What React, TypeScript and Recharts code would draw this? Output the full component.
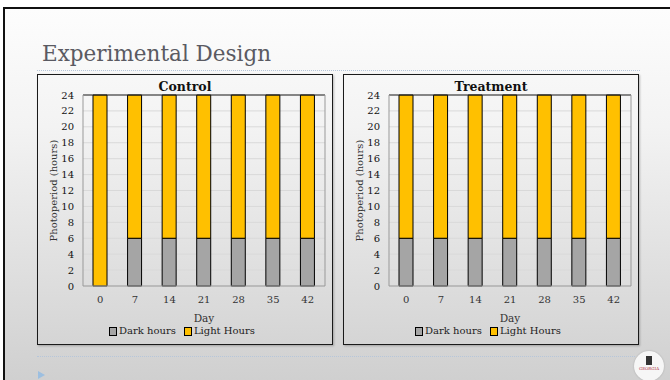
import React from 'react';
import { BarChart, Bar, XAxis, YAxis, CartesianGrid, Legend, ReferenceLine } from 'recharts';

const days = ['0', '7', '14', '21', '28', '35', '42'];
const controlDark = [0, 6, 6, 6, 6, 6, 6];
const controlLight = [24, 18, 18, 18, 18, 18, 18];
const treatmentDark = [6, 6, 6, 6, 6, 6, 6];
const treatmentLight = [18, 18, 18, 18, 18, 18, 18];
const yTicks = [0, 2, 4, 6, 8, 10, 12, 14, 16, 18, 20, 22, 24];
const legendItems = [
  { name: 'Dark hours', color: '#a5a5a5' },
  { name: 'Light Hours', color: '#ffc000' },
];

const SERIF = '"DejaVu Serif", "Liberation Serif", serif';

const LegendBox = () => (
  <div
    style={{
      display: 'flex',
      justifyContent: 'center',
      gap: 8,
      height: 18,
      lineHeight: '18px',
      fontFamily: SERIF,
      fontSize: 10,
      color: '#222',
    }}
  >
    {legendItems.map((it) => (
      <span key={it.name} style={{ display: 'flex', alignItems: 'center' }}>
        <span
          style={{
            width: 6,
            height: 7,
            background: it.color,
            border: '1px solid #000',
            marginRight: 2,
          }}
        />
        {it.name}
      </span>
    ))}
  </div>
);

const Panel = ({ title, dark, light, left }: { title: string; dark: number[]; light: number[]; left: number }) => {
  const data = days.map((d, i) => ({ day: d, dark: dark[i], light: light[i] }));
  return (
    <div
      style={{
        position: 'absolute',
        left,
        top: 74,
        width: 296,
        height: 271,
        border: '1px solid #1a1a1a',
        boxSizing: 'border-box',
        boxShadow: '1px 1px 2px rgba(0,0,0,0.25)',
      }}
    >
      <div
        style={{
          position: 'absolute',
          top: 4,
          left: 0,
          width: '100%',
          textAlign: 'center',
          fontFamily: SERIF,
          fontWeight: 'bold',
          fontSize: 12.5,
          lineHeight: '16px',
          color: '#111',
        }}
      >
        {title}
      </div>
      <BarChart width={294} height={269} data={data} margin={{ top: 20, right: 6, left: 0, bottom: 4 }}>
        <CartesianGrid horizontal vertical={false} stroke="#d9d9d9" />
        <XAxis
          dataKey="day"
          tickLine={false}
          tickSize={0}
          tickMargin={10}
          axisLine={{ stroke: '#999' }}
          height={36}
          tick={{ fontFamily: SERIF, fontSize: 10, fill: '#333' }}
          label={{ value: 'Day', position: 'insideBottom', offset: 0, fontFamily: SERIF, fontSize: 10.5, fill: '#333' }}
        />
        <YAxis
          domain={[0, 24]}
          ticks={yTicks}
          interval={0}
          width={45}
          tickLine={false}
          tickSize={0}
          tickMargin={9}
          axisLine={{ stroke: '#999' }}
          tick={{ fontFamily: SERIF, fontSize: 10, fill: '#111' }}
          label={{
            value: 'Photoperiod (hours)',
            angle: -90,
            position: 'insideLeft',
            offset: 15,
            style: { textAnchor: 'middle' },
            fontFamily: SERIF,
            fontSize: 10,
            fill: '#333',
          }}
        />
        <YAxis yAxisId="r" orientation="right" width={1} tick={false} tickLine={false} axisLine={{ stroke: '#999' }} />
        <Legend verticalAlign="bottom" content={<LegendBox />} />
        <Bar dataKey="dark" stackId="a" fill="#a5a5a5" stroke="#000" strokeWidth={1} barSize={14} isAnimationActive={false} />
        <Bar dataKey="light" stackId="a" fill="#ffc000" stroke="#000" strokeWidth={1} barSize={14} isAnimationActive={false} />
        <ReferenceLine y={24} stroke="#222" />
      </BarChart>
    </div>
  );
};

export default function App() {
  return (
    <div style={{ position: 'absolute', left: 0, top: 0, width: 670, height: 380, overflow: 'hidden', background: '#fff' }}>
      <div
        style={{
          position: 'absolute',
          left: 3,
          top: 7,
          width: 690,
          height: 390,
          border: '2px solid #111',
          background: 'linear-gradient(#fdfdfd, #f3f3f3 30%, #cdcdcd)',
        }}
      />
      <div
        style={{
          position: 'absolute',
          left: 42,
          top: 41,
          fontFamily: SERIF,
          fontSize: 21.5,
          color: '#5a5a62',
          lineHeight: '26px',
        }}
      >
        Experimental Design
      </div>
      <div style={{ position: 'absolute', left: 37, top: 70, width: 603, borderTop: '1px dotted #b6c6da' }} />
      <Panel title="Control" dark={controlDark} light={controlLight} left={37} />
      <Panel title="Treatment" dark={treatmentDark} light={treatmentLight} left={343} />
      <div style={{ position: 'absolute', left: 37, top: 356, width: 598, borderTop: '1px dotted #b6c6da' }} />
      <div
        style={{
          position: 'absolute',
          left: 38,
          top: 371,
          width: 0,
          height: 0,
          borderTop: '4px solid transparent',
          borderBottom: '4px solid transparent',
          borderLeft: '7px solid #9dbfe0',
        }}
      />
      <div
        style={{
          position: 'absolute',
          left: 634,
          top: 351,
          width: 30,
          height: 30,
          borderRadius: 15,
          background: '#f6f6f6',
          boxShadow: '0 0 2px rgba(0,0,0,0.2)',
          textAlign: 'center',
        }}
      >
        <div style={{ width: 6, height: 9, background: '#333', margin: '5px auto 1px' }} />
        <div style={{ fontFamily: SERIF, fontSize: 4, color: '#b03040', lineHeight: '5px' }}>GEORGIA</div>
      </div>
    </div>
  );
}
